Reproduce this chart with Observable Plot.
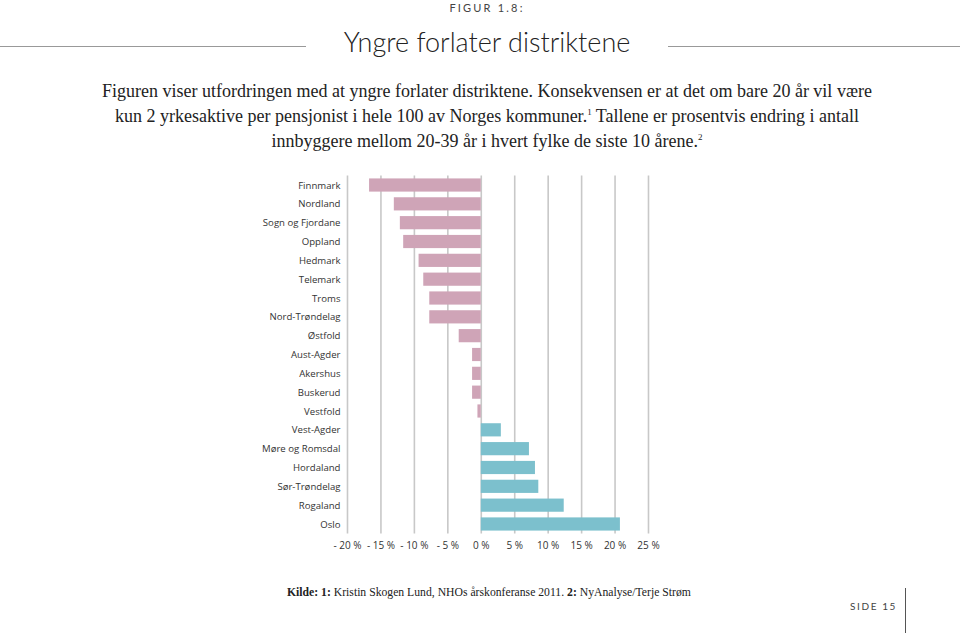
<!DOCTYPE html>
<html>
<head>
<meta charset="utf-8">
<script src="https://cdn.jsdelivr.net/npm/d3@7"></script>
<script src="https://cdn.jsdelivr.net/npm/@observablehq/plot@0.6"></script>
<style>
  html, body { margin: 0; padding: 0; background: #fff; }
  #page { position: relative; width: 960px; height: 633px; overflow: hidden; }
  .abs { position: absolute; }
  #fig { left: 0; width: 974px; top: 1px; text-align: center; font-family: "Lato", sans-serif; font-size: 11px; letter-spacing: 2.2px; color: #444; }
  #title { left: 0; width: 974px; top: 25px; text-align: center; font-family: "Lato", sans-serif; font-weight: 300; font-size: 27px; color: #222; }
  .rule { height: 1px; background: #999; top: 46px; }
  #intro { left: 0; width: 974px; top: 79px; text-align: center; font-family: "Liberation Serif", serif; font-size: 18px; line-height: 25px; color: #222; }
  #intro sup { font-size: 9px; vertical-align: 7px; line-height: 0; }
  #chart { left: 0; top: 160px; }
  #source { left: 287px; top: 586px; font-family: "Liberation Serif", serif; font-size: 11.7px; color: #222; }
  #side { left: 820px; width: 77px; top: 600px; text-align: right; font-family: "Lato", sans-serif; font-size: 10px; letter-spacing: 1.6px; color: #444; }
  #vline { left: 905px; top: 588px; width: 1px; height: 45px; background: #555; }
</style>
</head>
<body>
<div id="page">
  <div id="fig" class="abs">FIGUR 1.8:</div>
  <div id="title" class="abs">Yngre forlater distriktene</div>
  <div class="abs rule" style="left:0;width:306px"></div>
  <div class="abs rule" style="left:668px;width:292px"></div>
  <div id="intro" class="abs">Figuren viser utfordringen med at yngre forlater distriktene. Konsekvensen er at det om bare 20 år vil være<br>kun 2 yrkesaktive per pensjonist i hele 100 av Norges kommuner.<sup>1</sup> Tallene er prosentvis endring i antall<br>innbyggere mellom 20-39 år i hvert fylke de siste 10 årene.<sup>2</sup></div>
  <div id="chart" class="abs"></div>
  <div id="source" class="abs"><b>Kilde: 1:</b> Kristin Skogen Lund, NHOs årskonferanse 2011. <b>2:</b> NyAnalyse/Terje Strøm</div>
  <div id="side" class="abs">SIDE 15</div>
  <div id="vline" class="abs"></div>
</div>
<script>
const counties = ["Finnmark","Nordland","Sogn og Fjordane","Oppland","Hedmark","Telemark","Troms","Nord-Trøndelag","Østfold","Aust-Agder","Akershus","Buskerud","Vestfold","Vest-Agder","Møre og Romsdal","Hordaland","Sør-Trøndelag","Rogaland","Oslo"];
const changes = [-16.7,-13.0,-12.1,-11.6,-9.3,-8.6,-7.7,-7.7,-3.3,-1.3,-1.3,-1.3,-0.5,3.0,7.2,8.1,8.6,12.4,20.8];
const xTicks = [-20,-15,-10,-5,0,5,10,15,20,25];
const negColor = "#cfa4b7";
const posColor = "#7cc0cd";

const data = counties.map((c, i) => ({county: c, value: changes[i]}));
const fmt = v => (v < 0 ? "- " + Math.abs(v) : String(v)) + " %";

const chart = Plot.plot({
  width: 960,
  height: 400,
  marginLeft: 347,
  marginRight: 312,
  marginTop: 15.6,
  marginBottom: 26.6,
  style: {fontFamily: "'Open Sans', sans-serif", fontSize: "10px", color: "#333", background: "transparent"},
  x: {domain: [-20, 25], ticks: xTicks, tickFormat: fmt, tickSize: 0, tickPadding: 8, label: null},
  y: {domain: counties, paddingInner: 0.3, paddingOuter: 0.15, round: false, tickSize: 0, tickPadding: 7, label: null},
  marks: [
    Plot.gridX(xTicks, {stroke: "#c8c8c8", strokeOpacity: 1, strokeWidth: 1.6}),
    Plot.barX(data, {x: "value", y: "county", fill: d => d.value < 0 ? negColor : posColor}),
    Plot.axisX({ticks: xTicks, tickFormat: fmt, tickSize: 0, tickPadding: 8, label: null, fontSize: 10}),
    Plot.axisY({tickSize: 0, tickPadding: 7, label: null, fontSize: 9.6})
  ]
});
document.getElementById("chart").appendChild(chart);
</script>
</body>
</html>
